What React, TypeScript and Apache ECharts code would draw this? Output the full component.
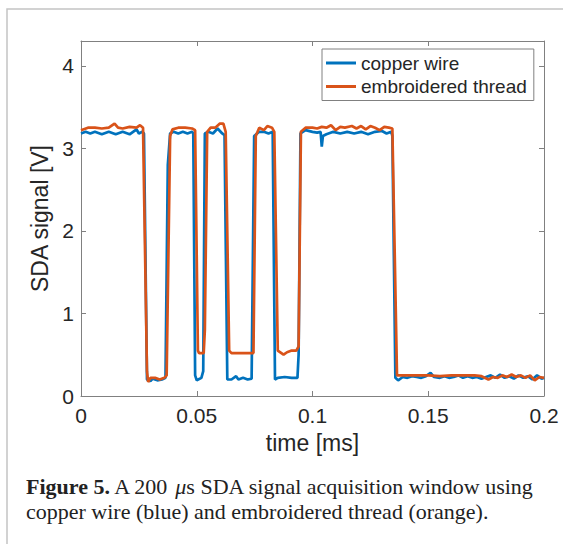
import React, { useEffect, useRef } from "react";
import * as echarts from "echarts";

// time [ms], signal [V]
const copperWire: [number, number][] = [
  [0, 3.18], [0.002, 3.2], [0.004, 3.18], [0.006, 3.2], [0.009, 3.17], [0.012, 3.2],
  [0.015, 3.17], [0.018, 3.2], [0.021, 3.17], [0.024, 3.23], [0.025, 3.18], [0.0265, 3.2],
  [0.0272, 3.18], [0.0285, 0.2], [0.030, 0.18], [0.031, 0.21], [0.033, 0.19], [0.035, 0.2],
  [0.0365, 0.22], [0.0375, 2.8], [0.0385, 3.18], [0.040, 3.2], [0.042, 3.18], [0.044, 3.2],
  [0.046, 3.18], [0.048, 3.2], [0.0485, 3.18], [0.0493, 0.25], [0.050, 0.19], [0.052, 0.22],
  [0.0528, 0.3], [0.0535, 3.18], [0.055, 3.2], [0.057, 3.18], [0.059, 3.24], [0.061, 3.18],
  [0.062, 3.16], [0.0632, 0.2], [0.065, 0.2], [0.067, 0.24], [0.068, 0.2], [0.070, 0.22],
  [0.072, 0.2], [0.0737, 0.21], [0.0748, 3.15], [0.077, 3.2], [0.079, 3.2], [0.081, 3.18],
  [0.0828, 3.2], [0.0838, 0.2], [0.085, 0.22], [0.088, 0.23], [0.091, 0.22], [0.0935, 0.22],
  [0.094, 0.5], [0.0948, 3.18], [0.097, 3.22], [0.100, 3.2], [0.102, 3.19], [0.1035, 3.2],
  [0.104, 3.02], [0.1045, 3.15], [0.106, 3.17], [0.109, 3.2], [0.112, 3.18], [0.115, 3.2],
  [0.118, 3.18], [0.121, 3.2], [0.124, 3.17], [0.127, 3.2], [0.130, 3.21], [0.132, 3.18],
  [0.134, 3.2], [0.1345, 3.15], [0.1358, 0.22], [0.137, 0.19], [0.139, 0.23], [0.141, 0.22],
  [0.143, 0.24], [0.145, 0.23], [0.147, 0.22], [0.149, 0.24], [0.151, 0.28], [0.1525, 0.23],
  [0.155, 0.22], [0.157, 0.24], [0.159, 0.22], [0.161, 0.23], [0.163, 0.25], [0.165, 0.22],
  [0.167, 0.24], [0.169, 0.22], [0.171, 0.23], [0.173, 0.21], [0.175, 0.23], [0.177, 0.25],
  [0.179, 0.22], [0.181, 0.26], [0.183, 0.22], [0.185, 0.24], [0.187, 0.21], [0.189, 0.25],
  [0.191, 0.22], [0.193, 0.24], [0.195, 0.2], [0.197, 0.25], [0.199, 0.21], [0.2, 0.22],
];

const embroideredThread: [number, number][] = [
  [0, 3.22], [0.003, 3.25], [0.006, 3.25], [0.009, 3.24], [0.012, 3.25], [0.0145, 3.3],
  [0.016, 3.25], [0.018, 3.24], [0.021, 3.26], [0.024, 3.25], [0.0255, 3.28], [0.0268, 3.25],
  [0.0285, 0.3], [0.029, 0.17], [0.030, 0.22], [0.032, 0.22], [0.034, 0.2], [0.036, 0.22],
  [0.037, 0.25], [0.0385, 3.15], [0.0395, 3.23], [0.042, 3.25], [0.045, 3.25], [0.048, 3.24],
  [0.0493, 3.22], [0.0505, 0.55], [0.051, 0.52], [0.053, 0.52], [0.0535, 0.8], [0.0545, 3.2],
  [0.056, 3.25], [0.058, 3.25], [0.060, 3.3], [0.0615, 3.3], [0.0625, 3.2], [0.064, 0.55],
  [0.065, 0.52], [0.070, 0.52], [0.0745, 0.52], [0.0755, 3.15], [0.077, 3.25], [0.079, 3.22],
  [0.0805, 3.27], [0.0825, 3.25], [0.0835, 3.2], [0.085, 0.55], [0.0875, 0.5], [0.089, 0.53],
  [0.091, 0.55], [0.093, 0.55], [0.094, 0.6], [0.095, 3.2], [0.097, 3.25], [0.100, 3.25],
  [0.102, 3.24], [0.104, 3.26], [0.106, 3.25], [0.108, 3.28], [0.110, 3.22], [0.112, 3.26],
  [0.114, 3.25], [0.117, 3.27], [0.119, 3.24], [0.121, 3.27], [0.123, 3.23], [0.125, 3.27],
  [0.127, 3.25], [0.129, 3.22], [0.131, 3.26], [0.133, 3.25], [0.1345, 3.24], [0.1365, 0.25],
  [0.14, 0.25], [0.145, 0.25], [0.15, 0.25], [0.155, 0.24], [0.16, 0.25], [0.165, 0.25],
  [0.17, 0.25], [0.173, 0.24], [0.176, 0.2], [0.178, 0.23], [0.18, 0.22], [0.182, 0.25],
  [0.184, 0.23], [0.186, 0.26], [0.188, 0.23], [0.19, 0.25], [0.192, 0.22], [0.194, 0.25],
  [0.196, 0.19], [0.198, 0.23], [0.2, 0.22],
];

const seriesNames = ["copper wire", "embroidered thread"];
const seriesColors = ["#0072BD", "#D95319"];
const xTickLabels: Record<string, string> = { "0": "0", "0.05": "0.05", "0.1": "0.1", "0.15": "0.15", "0.2": "0.2" };

const FONT = "'Liberation Sans', Arial, Helvetica, sans-serif";
const SERIF = "'Liberation Serif', 'Times New Roman', serif";
const AXIS_COLOR = "#808080";
const TEXT_COLOR = "#262626";

export default function App() {
  const ref = useRef<HTMLDivElement>(null);
  useEffect(() => {
    if (!ref.current) return;
    const chart = echarts.init(ref.current, null, { renderer: "svg" });
    const commonX = {
      type: "value" as const,
      min: 0,
      max: 0.2,
      interval: 0.05,
      splitLine: { show: false },
      axisLine: { show: true, onZero: false, lineStyle: { color: AXIS_COLOR, width: 1 } },
      axisTick: { show: true, inside: true, length: 5, lineStyle: { color: AXIS_COLOR } },
    };
    const commonY = {
      type: "value" as const,
      min: 0,
      max: 4.3,
      interval: 1,
      splitLine: { show: false },
      axisLine: { show: true, onZero: false, lineStyle: { color: AXIS_COLOR, width: 1 } },
      axisTick: { show: true, inside: true, length: 5, lineStyle: { color: AXIS_COLOR } },
    };
    chart.setOption({
      animation: false,
      backgroundColor: "#ffffff",
      grid: { left: 81, right: 19, top: 41, bottom: 148, containLabel: false },
      legend: {
        orient: "vertical",
        left: 322,
        top: 49,
        data: seriesNames.map((n) => ({ name: n, icon: "rect" })),
        itemWidth: 30,
        itemHeight: 3,
        itemGap: 4.5,
        padding: [4.5, 7, 4.5, 4],
        borderColor: AXIS_COLOR,
        borderWidth: 1,
        backgroundColor: "#ffffff",
        textStyle: { fontFamily: FONT, fontSize: 19, color: TEXT_COLOR },
      },
      xAxis: [
        {
          ...commonX,
          position: "bottom",
          name: "time [ms]",
          nameLocation: "middle",
          nameGap: 35,
          nameTextStyle: { fontFamily: FONT, fontSize: 23, color: TEXT_COLOR },
          axisLabel: {
            fontFamily: FONT,
            fontSize: 21,
            color: TEXT_COLOR,
            margin: 9,
            formatter: (v: number) => xTickLabels[String(+v.toFixed(3))] ?? String(+v.toFixed(3)),
          },
        },
        { ...commonX, position: "top", axisLabel: { show: false } },
      ],
      yAxis: [
        {
          ...commonY,
          position: "left",
          name: "SDA signal [V]",
          nameLocation: "middle",
          nameGap: 19,
          nameTextStyle: { fontFamily: FONT, fontSize: 23, color: TEXT_COLOR },
          axisLabel: {
            fontFamily: FONT,
            fontSize: 21,
            color: TEXT_COLOR,
            margin: 7,
            showMaxLabel: false,
            formatter: (v: number) => (Number.isInteger(v) ? String(v) : ""),
          },
        },
        { ...commonY, position: "right", axisLabel: { show: false } },
      ],
      series: [
        {
          name: seriesNames[0],
          type: "line",
          data: copperWire,
          showSymbol: false,
          symbol: "none",
          color: seriesColors[0],
          lineStyle: { width: 2.7, color: seriesColors[0] },
        },
        {
          name: seriesNames[1],
          type: "line",
          data: embroideredThread,
          showSymbol: false,
          symbol: "none",
          color: seriesColors[1],
          lineStyle: { width: 2.7, color: seriesColors[1] },
        },
      ],
      graphic: [
        {
          type: "polyline",
          shape: { points: [[7, 544], [7, 9], [563, 9]] },
          style: { stroke: "#c4c4c4", lineWidth: 1.5, fill: "none" },
          silent: true,
        },
        {
          type: "text",
          left: 26,
          top: 475,
          style: {
            text: "{b|Figure 5.} A 200 {i|μ}s SDA signal acquisition window using",
            font: `22px ${SERIF}`,
            fill: "#222222",
            rich: {
              b: { fontFamily: SERIF, fontSize: 22, fontWeight: "bold", fill: "#222222" },
              i: { fontFamily: SERIF, fontSize: 22, fontStyle: "italic", fill: "#222222" },
            },
          },
        },
        {
          type: "text",
          left: 26,
          top: 500,
          style: {
            text: "copper wire (blue) and embroidered thread (orange).",
            font: `22px ${SERIF}`,
            fill: "#222222",
          },
        },
      ],
    });
    return () => chart.dispose();
  }, []);
  return (
    <div
      ref={ref}
      style={{ position: "fixed", left: 0, top: 0, width: 563, height: 544, background: "#fff" }}
    />
  );
}
